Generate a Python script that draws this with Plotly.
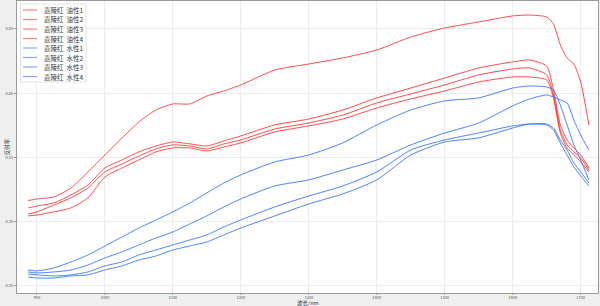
import plotly.graph_objects as go

wavelength = [887, 900, 925, 950, 975, 1000, 1025, 1050, 1075, 1100, 1125, 1150, 1175, 1200,
              1250, 1300, 1350, 1400, 1450, 1500, 1550, 1600, 1625, 1650, 1660, 1670, 1680,
              1690, 1700, 1712]

oil1 = [0.5164, 0.5177, 0.5192, 0.5262, 0.5387, 0.5519, 0.5651, 0.5776, 0.5869, 0.5916, 0.5916,
        0.5978, 0.6017, 0.6064, 0.6180, 0.6227, 0.6274, 0.6336, 0.6437, 0.6507, 0.6554, 0.6601,
        0.6608, 0.6593, 0.6538, 0.6375, 0.6274, 0.6227, 0.6087, 0.5753]
oil2 = [0.5107, 0.5122, 0.5146, 0.5208, 0.5286, 0.5418, 0.5480, 0.5543, 0.5589, 0.5620, 0.5605,
        0.5589, 0.5628, 0.5667, 0.5753, 0.5799, 0.5869, 0.5963, 0.6040, 0.6118, 0.6196, 0.6243,
        0.6258, 0.6211, 0.6025, 0.5753, 0.5636, 0.5574, 0.5519, 0.5418]
oil3 = [0.5060, 0.5076, 0.5130, 0.5185, 0.5263, 0.5387, 0.5449, 0.5511, 0.5566, 0.5597, 0.5589,
        0.5566, 0.5605, 0.5636, 0.5721, 0.5768, 0.5830, 0.5924, 0.5994, 0.6064, 0.6142, 0.6188,
        0.6196, 0.6142, 0.5986, 0.5714, 0.5597, 0.5543, 0.5496, 0.5402]
oil4 = [0.5045, 0.5052, 0.5076, 0.5107, 0.5185, 0.5348, 0.5418, 0.5480, 0.5543, 0.5574, 0.5574,
        0.5550, 0.5581, 0.5613, 0.5698, 0.5745, 0.5799, 0.5885, 0.5955, 0.6017, 0.6087, 0.6126,
        0.6126, 0.6103, 0.5963, 0.5690, 0.5574, 0.5519, 0.5465, 0.5387]
water1 = [0.4624, 0.4617, 0.4640, 0.4687, 0.4741, 0.4811, 0.4881, 0.4951, 0.5013, 0.5076, 0.5146,
          0.5224, 0.5301, 0.5364, 0.5465, 0.5519, 0.5613, 0.5753, 0.5869, 0.5940, 0.5963, 0.6040,
          0.6056, 0.6048, 0.6025, 0.5908, 0.5753, 0.5597, 0.5480, 0.5325]
water2 = [0.4609, 0.4601, 0.4609, 0.4624, 0.4663, 0.4718, 0.4765, 0.4819, 0.4873, 0.4920, 0.4982,
          0.5045, 0.5115, 0.5177, 0.5278, 0.5325, 0.5402, 0.5480, 0.5597, 0.5690, 0.5768, 0.5901,
          0.5955, 0.5986, 0.5970, 0.5947, 0.5924, 0.5791, 0.5675, 0.5558]
water3 = [0.4593, 0.4586, 0.4578, 0.4586, 0.4609, 0.4656, 0.4687, 0.4741, 0.4780, 0.4819, 0.4858,
          0.4897, 0.4959, 0.5014, 0.5115, 0.5200, 0.5278, 0.5387, 0.5558, 0.5636, 0.5690, 0.5745,
          0.5760, 0.5760, 0.5729, 0.5636, 0.5558, 0.5457, 0.5387, 0.5301]
water4 = [0.4570, 0.4562, 0.4562, 0.4578, 0.4586, 0.4624, 0.4656, 0.4702, 0.4733, 0.4780, 0.4811,
          0.4842, 0.4897, 0.4951, 0.5045, 0.5138, 0.5216, 0.5325, 0.5519, 0.5620, 0.5652, 0.5729,
          0.5760, 0.5752, 0.5714, 0.5613, 0.5519, 0.5426, 0.5356, 0.5278]

series_names = ["嘉陵红  油性1", "嘉陵红  油性2", "嘉陵红  油性3", "嘉陵红  油性4",
                "嘉陵红  水性1", "嘉陵红  水性2", "嘉陵红  水性3", "嘉陵红  水性4"]
series_values = [oil1, oil2, oil3, oil4, water1, water2, water3, water4]

x_ticks = [900, 1000, 1100, 1200, 1300, 1400, 1500, 1600, 1700]
y_ticks = [0.45, 0.50, 0.55, 0.60, 0.65]

RED = "rgba(255,45,45,0.85)"
BLUE = "rgba(45,110,250,0.85)"
colors = [RED] * 4 + [BLUE] * 4
FONT = "Noto Sans CJK SC"

fig = go.Figure()
for name, vals, col in zip(series_names, series_values, colors):
    fig.add_trace(go.Scatter(x=wavelength, y=vals, mode="lines", name=name,
                             line=dict(color=col, width=1, shape="spline", smoothing=0.6),
                             showlegend=False))

W, H = 600, 306
ML, MR, MT, MB = 17, 2, 1, 13
pw, ph = W - ML - MR, H - MT - MB

def px(xp):
    return (xp - ML) / pw

def py(yp):
    return (H - MB - yp) / ph

shapes = [dict(type="rect", xref="paper", yref="paper", x0=px(20.5), x1=px(86), y0=py(82), y1=py(4),
               fillcolor="white", line=dict(color="#e2e2e2", width=1), layer="above")]
annotations = []
for i, (name, col) in enumerate(zip(series_names, colors)):
    yc = 10 + i * 9.5
    shapes.append(dict(type="line", xref="paper", yref="paper", x0=px(23), x1=px(37), y0=py(yc), y1=py(yc),
                       line=dict(color=col.replace("0.85", "0.6"), width=1.2), layer="above"))
    annotations.append(dict(xref="paper", yref="paper", x=px(42), y=py(yc), text=name, showarrow=False,
                            xanchor="left", yanchor="middle", font=dict(family=FONT, size=6.5, color="#333")))

# axis titles
annotations.append(dict(xref="paper", yref="paper", x=px(308), y=py(307.5), text="波长/nm", showarrow=False,
                        borderpad=0, xanchor="center", yanchor="bottom",
                        font=dict(family=FONT, size=5.5, color="#333")))
annotations.append(dict(xref="paper", yref="paper", x=px(1.5), y=py(147), text="反射率", showarrow=False,
                        borderpad=0, textangle=-90, xanchor="left", yanchor="middle",
                        font=dict(family=FONT, size=5.5, color="#333")))

fig.update_layout(
    width=W, height=H,
    margin=dict(l=ML, r=MR, t=MT, b=MB),
    paper_bgcolor="#efefef", plot_bgcolor="white",
    font=dict(family=FONT, size=5, color="#555"),
    shapes=shapes, annotations=annotations,
    showlegend=False,
)
fig.update_xaxes(range=[870.6, 1725.5], tickvals=x_ticks, ticktext=[str(t) for t in x_ticks],
                 showgrid=True, gridcolor="#ececec", gridwidth=1, zeroline=False,
                 showline=True, linecolor="#9a9a9a", linewidth=1, mirror=True,
                 ticks="outside", ticklen=1, tickcolor="#9a9a9a", tickfont=dict(size=4, color="#555"),
                 ticklabelstandoff=-1)
fig.update_yaxes(range=[0.4445, 0.6717], tickvals=y_ticks, ticktext=["%.2f" % t for t in y_ticks],
                 showgrid=True, gridcolor="#ececec", gridwidth=1, zeroline=False,
                 showline=True, linecolor="#9a9a9a", linewidth=1, mirror=True,
                 ticks="outside", ticklen=2, tickcolor="#9a9a9a", tickfont=dict(size=4, color="#555"))

fig.write_html("out.html")
